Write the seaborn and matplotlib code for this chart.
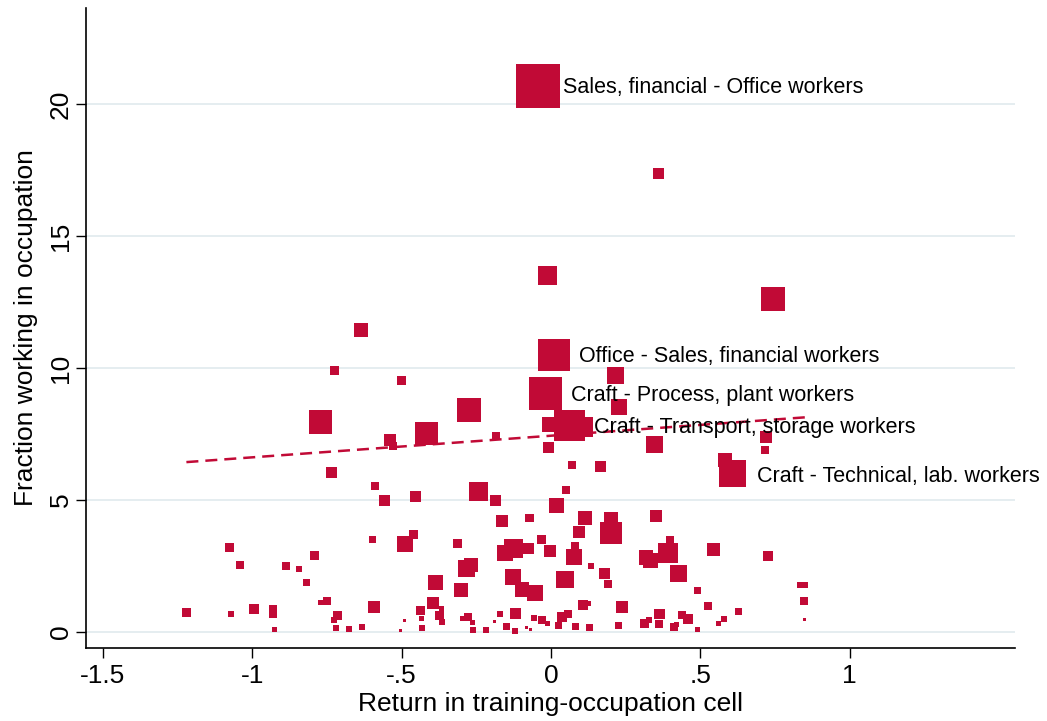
import numpy as np
import pandas as pd
import matplotlib
matplotlib.use("Agg")
import matplotlib.pyplot as plt
import seaborn as sns

# Return in each training-occupation cell (x), share working in occupation (y),
# and cell weight (marker area). The first five cells are the labelled ones.
cell_return = [
    -0.042, 0.009, -0.018, 0.062, 0.607,
    0.361, -0.010, 0.743, -0.636, -0.723, -0.499, 0.216, 0.228, -0.003, 0.107,
    0.348, -0.007, 0.070, 0.166, 0.050, 0.720, 0.716, 0.582, -0.770, -0.275,
    -0.418, -0.539, -0.529, -0.184, -0.733, -0.589, -0.557, -0.452, -0.243, -0.184,
    -0.164, -0.072, 0.018, -0.460, -1.220, -1.077, -1.041, -1.071, -0.994, -0.930,
    -0.930, -0.924, -0.887, -0.843, -0.818, -0.792, -0.771, -0.750, -0.721, -0.713,
    -0.726, -0.676, -0.633, -0.592, -0.597, -0.489, -0.489, -0.505, -0.387, -0.395,
    -0.436, -0.366, -0.432, -0.432, -0.373, -0.365, -0.312, -0.268, -0.284, -0.301,
    -0.296, -0.278, -0.261, -0.261, -0.218, -0.189, -0.171, -0.149, -0.120, -0.119,
    -0.057, -0.082, -0.069, -0.030, -0.013, 0.025, 0.037, 0.057, 0.082, 0.129,
    0.226, 0.313, 0.328, 0.363, 0.361, 0.412, 0.420, 0.438, 0.458, 0.492,
    0.490, 0.114, 0.201, 0.201, 0.351, 0.094, -0.032, -0.003, 0.079, 0.077,
    -0.125, -0.154, -0.075, 0.397, 0.392, 0.318, 0.333, 0.427, 0.047, 0.134,
    0.179, 0.191, 0.238, -0.127, -0.097, -0.052, 0.107, 0.126, 0.544, 0.726,
    0.525, 0.628, 0.579, 0.561, 0.833, 0.850, 0.847, 0.848,
]
frac_working = [
    20.71, 10.50, 9.03, 7.83, 5.98,
    17.39, 13.49, 12.62, 11.44, 9.89, 9.51, 9.70, 8.52, 7.85, 7.76,
    7.08, 6.97, 6.32, 6.28, 5.37, 7.38, 6.89, 6.51, 7.95, 8.41,
    7.52, 7.27, 7.04, 7.42, 6.02, 5.53, 4.96, 5.11, 5.30, 4.98,
    4.21, 4.31, 4.77, 3.69, 0.73, 3.19, 2.54, 0.68, 0.86, 0.86,
    0.67, 0.08, 2.49, 2.38, 1.87, 2.90, 1.09, 1.18, 0.14, 0.63,
    0.44, 0.10, 0.18, 0.94, 3.48, 3.33, 0.44, 0.03, 1.85, 1.10,
    0.80, 0.86, 0.48, 0.14, 0.60, 0.37, 3.34, 2.54, 2.40, 1.59,
    0.51, 0.56, 0.33, 0.06, 0.06, 0.39, 0.67, 0.20, 0.03, 0.69,
    0.52, 0.14, 0.08, 0.44, 0.31, 0.24, 0.56, 0.67, 0.20, 0.16,
    0.22, 0.31, 0.44, 0.67, 0.29, 0.18, 0.29, 0.63, 0.48, 0.08,
    1.57, 4.31, 3.74, 4.27, 4.39, 3.78, 3.50, 3.06, 3.24, 2.83,
    3.17, 2.98, 3.17, 3.49, 2.98, 2.81, 2.69, 2.19, 1.96, 2.49,
    2.19, 1.81, 0.94, 2.07, 1.60, 1.47, 1.01, 1.05, 3.12, 2.88,
    0.97, 0.77, 0.48, 0.31, 1.77, 1.77, 1.16, 0.47,
]
cell_weight = [
    19.4, 10.2, 10.9, 9.6, 7.3,
    1.2, 3.6, 5.8, 2.0, 0.8, 0.8, 2.9, 2.6, 2.3, 4.0,
    2.9, 1.2, 0.64, 1.2, 0.64, 1.4, 0.64, 2.0, 5.3, 5.8,
    5.3, 1.4, 0.64, 0.64, 1.2, 0.64, 1.2, 1.2, 3.6, 1.2,
    1.4, 0.8, 2.3, 0.8, 0.8, 0.8, 0.64, 0.36, 1.0, 0.64,
    0.64, 0.25, 0.64, 0.36, 0.49, 0.8, 0.25, 0.64, 0.36, 0.8,
    0.36, 0.36, 0.36, 1.4, 0.49, 2.6, 0.09, 0.09, 2.3, 1.4,
    0.8, 0.25, 0.25, 0.36, 0.8, 0.36, 0.8, 2.0, 2.9, 2.0,
    0.25, 0.64, 0.25, 0.36, 0.36, 0.09, 0.36, 0.49, 0.36, 1.2,
    0.36, 0.09, 0.09, 0.64, 0.25, 0.49, 1.0, 0.64, 0.49, 0.49,
    0.49, 0.8, 0.36, 1.2, 0.64, 0.64, 0.25, 0.64, 1.0, 0.25,
    0.49, 2.0, 4.8, 2.0, 1.4, 1.4, 0.8, 1.4, 0.64, 2.6,
    3.6, 2.3, 1.2, 0.64, 4.0, 2.0, 2.3, 2.9, 2.9, 0.36,
    1.2, 0.64, 1.4, 2.6, 2.0, 2.6, 1.0, 0.25, 1.7, 1.0,
    0.64, 0.49, 0.36, 0.25, 0.36, 0.36, 0.64, 0.09,
]
cell_labels = [
    "Sales, financial - Office workers",
    "Office - Sales, financial workers",
    "Craft - Process, plant workers",
    "Craft - Transport, storage workers",
    "Craft - Technical, lab. workers",
]

# Weighted linear fit of share on return
fit_intercept = 7.43
fit_slope = 0.82

xtick_values = [-1.5, -1, -0.5, 0, 0.5, 1]
xtick_labels = ["-1.5", "-1", "-.5", "0", ".5", "1"]
ytick_values = [0, 5, 10, 15, 20]
ytick_labels = ["0", "5", "10", "15", "20"]

df = pd.DataFrame({"ret": cell_return, "frac": frac_working, "w": cell_weight})

sns.set_theme(style="white")
plt.rcParams["font.family"] = ["Liberation Sans", "DejaVu Sans"]
plt.rcParams.update({
    "text.color": "black", "axes.labelcolor": "black",
    "xtick.color": "black", "ytick.color": "black",
})

MARK = "#C10A36"
GRID = "#E3ECEF"

fig = plt.figure(figsize=(10.47, 7.21), dpi=100)
ax = fig.add_axes([86 / 1047, 1 - 648 / 721, (1015 - 86) / 1047, (648 - 8) / 721])

for yv in ytick_values:
    ax.axhline(yv, color=GRID, lw=1.3, zorder=0)

# marker area proportional to weight (side in points = 7.2 * sqrt(weight))
wmax = max(cell_weight)
pt2_per_w = 7.2 ** 2
sns.scatterplot(
    data=df, x="ret", y="frac", size="w",
    sizes=(0, wmax * pt2_per_w), size_norm=(0, wmax),
    marker="s", color=MARK, linewidth=0, legend=False, ax=ax, zorder=3,
)

fx = np.array([min(cell_return), max(cell_return)])
ax.plot(fx, fit_intercept + fit_slope * fx, color=MARK, lw=1.8,
        linestyle=(0, (4.8, 2.8)), zorder=4)

for i, txt in enumerate(cell_labels):
    ax.annotate(txt, (cell_return[i], frac_working[i]), xytext=(18, -1.5),
                textcoords="offset points", ha="left", va="center",
                fontsize=15.5, color="black", zorder=5)

ax.set_xlim(-1.556, 1.553)
ax.set_ylim(-0.62, 23.65)
ax.set_xticks(xtick_values)
ax.set_xticklabels(xtick_labels, fontsize=19)
ax.set_yticks(ytick_values)
ax.set_yticklabels(ytick_labels, fontsize=19, rotation=90, va="center")
ax.tick_params(axis="both", which="major", direction="out", length=7.5,
               width=1.0, color="black", labelcolor="black", left=True, bottom=True)
ax.tick_params(axis="x", pad=4)
ax.tick_params(axis="y", pad=2)

for side in ["top", "right"]:
    ax.spines[side].set_visible(False)
for side in ["left", "bottom"]:
    ax.spines[side].set_color("black")
    ax.spines[side].set_linewidth(1.2)

ax.set_xlabel("Return in training-occupation cell", fontsize=19, labelpad=3, color="black")
ax.set_ylabel("Fraction working in occupation", fontsize=19, labelpad=8, color="black")

fig.savefig("out.png", dpi=100)
